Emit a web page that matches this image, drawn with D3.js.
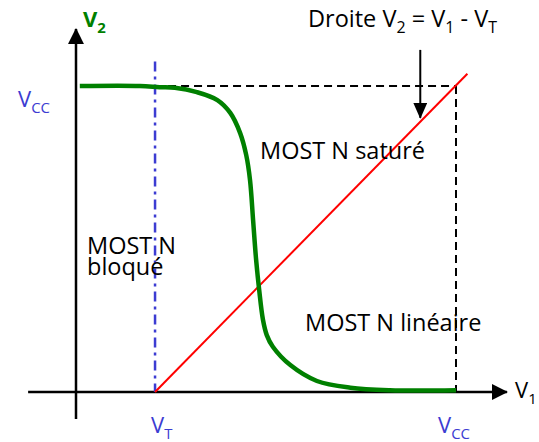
<!DOCTYPE html>
<html>
<head>
<meta charset="utf-8">
<script src="https://cdn.jsdelivr.net/npm/d3@7"></script>
<style>
  body { margin: 0; background: #fff; }
  text { font-family: "Open Sans", "Noto Sans", sans-serif; }
</style>
</head>
<body>
<div id="chart"></div>
<script>
// values (V1, V2 in volts, VCC = 5)
const VCC = 5;
const VT = 1.04;
const curveV1 = [0.05, 0.84, 1.1, 1.3, 1.59, 1.86, 2.03, 2.16, 2.24, 2.29, 2.33, 2.37, 2.41, 2.46, 2.51, 2.59, 2.82, 3.17, 3.61, 4.13, 5.0];
const curveV2 = [5.0, 5.0, 4.98, 4.97, 4.9, 4.77, 4.56, 4.23, 3.87, 3.46, 2.81, 2.16, 1.67, 1.18, 0.93, 0.74, 0.44, 0.18, 0.07, 0.03, 0.03];
const droiteV1 = [VT, 5.15];
const droiteV2 = [0, 5.2];

const width = 539, height = 442;
const svg = d3.select("#chart").append("svg")
  .attr("width", width)
  .attr("height", height);

const x = d3.scaleLinear().domain([0, VCC]).range([76, 456]);
const y = d3.scaleLinear().domain([0, VCC]).range([392, 86]);

const defs = svg.append("defs");
defs.append("marker")
  .attr("id", "arrow")
  .attr("viewBox", "0 0 16 16")
  .attr("refX", 15).attr("refY", 8)
  .attr("markerUnits", "userSpaceOnUse")
  .attr("markerWidth", 16).attr("markerHeight", 16)
  .attr("orient", "auto")
  .append("path")
  .attr("d", "M0,0 L16,8 L0,16 Z")
  .attr("fill", "#000");
defs.append("marker")
  .attr("id", "arrow2")
  .attr("viewBox", "0 0 16 14")
  .attr("refX", 15).attr("refY", 7)
  .attr("markerUnits", "userSpaceOnUse")
  .attr("markerWidth", 16).attr("markerHeight", 14)
  .attr("orient", "auto")
  .append("path")
  .attr("d", "M0,0 L16,7 L0,14 Z")
  .attr("fill", "#000");

// axes
svg.append("line")
  .attr("x1", x(-0.63)).attr("y1", y(0))
  .attr("x2", x(5.67)).attr("y2", y(0))
  .attr("stroke", "#000").attr("stroke-width", 2.5)
  .attr("marker-end", "url(#arrow)");
svg.append("line")
  .attr("x1", x(0)).attr("y1", y(-0.44))
  .attr("x2", x(0)).attr("y2", y(5.93))
  .attr("stroke", "#000").attr("stroke-width", 2.5)
  .attr("marker-end", "url(#arrow)");

// dashed guides at VCC
svg.append("line")
  .attr("x1", x(VT)).attr("y1", y(VCC))
  .attr("x2", x(VCC)).attr("y2", y(VCC))
  .attr("stroke", "#000").attr("stroke-width", 2)
  .attr("stroke-dasharray", "8,5");
svg.append("line")
  .attr("x1", x(VCC)).attr("y1", y(VCC))
  .attr("x2", x(VCC)).attr("y2", y(0))
  .attr("stroke", "#000").attr("stroke-width", 2)
  .attr("stroke-dasharray", "8,5");

// VT dash-dot line
svg.append("line")
  .attr("x1", x(VT)).attr("y1", y(5.4))
  .attr("x2", x(VT)).attr("y2", y(0))
  .attr("stroke", "#3c3cd2").attr("stroke-width", 2.5)
  .attr("stroke-dasharray", "10,5,3,5");

// droite V2 = V1 - VT
svg.append("line")
  .attr("x1", x(droiteV1[0])).attr("y1", y(droiteV2[0]))
  .attr("x2", x(droiteV1[1])).attr("y2", y(droiteV2[1]))
  .attr("stroke", "#ff0000").attr("stroke-width", 2);

// transfer curve
const pts = curveV1.map((v, i) => [v, curveV2[i]]);
const line = d3.line()
  .x(d => x(d[0]))
  .y(d => y(d[1]))
  .curve(d3.curveCatmullRom);
svg.append("path")
  .datum(pts)
  .attr("d", line)
  .attr("fill", "none")
  .attr("stroke", "#008000")
  .attr("stroke-width", 4.5)
  .attr("stroke-linejoin", "round");

// annotation arrow
svg.append("line")
  .attr("x1", x(4.53)).attr("y1", y(5.59))
  .attr("x2", x(4.53)).attr("y2", y(4.48))
  .attr("stroke", "#000").attr("stroke-width", 2)
  .attr("marker-end", "url(#arrow2)");

// labels
function subLabel(px, py, parts, color, size, weight) {
  const t = svg.append("text")
    .attr("x", px).attr("y", py)
    .attr("fill", color)
    .attr("font-size", size)
    .attr("font-weight", weight || "normal");
  let shifted = false;
  parts.forEach(p => {
    const s = t.append("tspan").text(p[0]);
    if (p[1] && !shifted) { s.attr("dy", 6).attr("font-size", size * 0.68); shifted = true; }
    else if (p[1]) { s.attr("font-size", size * 0.68); }
    else if (shifted) { s.attr("dy", -6); shifted = false; }
  });
  return t;
}

subLabel(83, 27, [["V"], ["2", true]], "#008000", 22, "bold");
subLabel(18, 107, [["V"], ["CC", true]], "#3c3cd2", 22);
subLabel(151, 433, [["V"], ["T", true]], "#3c3cd2", 22);
subLabel(438, 433, [["V"], ["CC", true]], "#3c3cd2", 22);
subLabel(515, 398, [["V"], ["1", true]], "#000", 22);
subLabel(308, 27, [["Droite V"], ["2", true], [" = V"], ["1", true], [" - V"], ["T", true]], "#000", 23.5);

svg.append("text").attr("x", 260).attr("y", 159)
  .attr("font-size", 23.5).text("MOST N saturé");
svg.append("text").attr("x", 305).attr("y", 331)
  .attr("font-size", 23.5).text("MOST N linéaire");
const bloque = svg.append("text").attr("x", 87).attr("y", 254)
  .attr("font-size", 23.5);
bloque.append("tspan").attr("x", 87).text("MOST N");
bloque.append("tspan").attr("x", 87).attr("dy", 21).text("bloqué");
</script>
</body>
</html>
